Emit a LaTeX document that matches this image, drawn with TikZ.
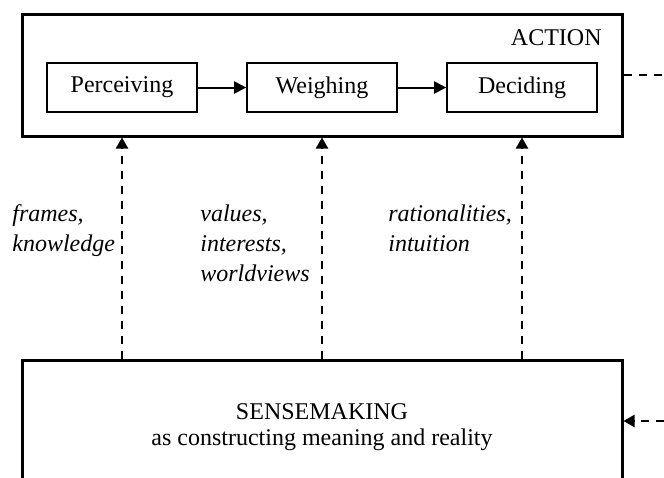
\documentclass[tikz,border=0pt]{standalone}
\usepackage{fontspec}
\setmainfont{Liberation Serif}
\usetikzlibrary{arrows.meta}
\begin{document}
\begin{tikzpicture}[x=0.5pt,y=-0.5pt,
  txt/.style={font=\fontsize{12}{14}\selectfont,inner sep=0pt},
  frame/.style={draw,line width=1.5pt,inner sep=0pt,minimum width=300pt},
  stage/.style={txt,draw,line width=0.8pt,minimum width=75pt,minimum height=24.5pt},
  tip/.style={-{Triangle[length=6pt,width=6pt]}},
  flow/.style={tip,line width=1pt},
  dashline/.style={line width=1.1pt,dash pattern=on 4pt off 3.5pt},
  link/.style={dashline,-{Triangle[length=5.5pt,width=6pt]}},
  note/.style={txt,font=\fontsize{12}{15}\selectfont\itshape,align=left,anchor=base west},
]
\clip (0,0) rectangle (664,477);

% ACTION frame with its three stages
\node[frame,minimum height=61pt] (action) at (322,75) {};
\node[txt,anchor=base east] (actlabel) at (602,45) {ACTION};
\node[stage] (perc) at (122,87.5) {Perceiving};
\node[stage] (weigh) at (322,87.5) {Weighing};
\node[stage] (decid) at (522,87.5) {Deciding};
\draw[flow] (perc) -- (weigh);
\draw[flow] (weigh) -- (decid);

% SENSEMAKING frame (runs past the lower edge)
\node[frame,minimum height=100pt] (sense) at (322,460) {};
\node[txt,anchor=base] (sensetitle) at (322,419) {SENSEMAKING};
\node[txt,anchor=base] (sensesub) at (322,445) {as constructing meaning and reality};

% influences from sensemaking onto each stage
\draw[link] (sense.north -| perc) -- (action.south -| perc);
\draw[link] (sense.north -| weigh) -- (action.south -| weigh);
\draw[link] (sense.north -| decid) -- (action.south -| decid);

% labels (anchored at the baseline of their last line)
\node[note] (lk) at (12,251) {frames,\\knowledge};
\node[note] (lv) at (200,281) {values,\\interests,\\worldviews};
\node[note] (lr) at (388,251) {rationalities,\\intuition};

% feedback loop leaving and re-entering on the right
\coordinate (outR) at (664,75);
\coordinate (inR) at (664,421);
\draw[dashline] (action.east) -- (outR);
\draw[link] (inR) -- (sense.east |- inR);
\end{tikzpicture}
\end{document}
